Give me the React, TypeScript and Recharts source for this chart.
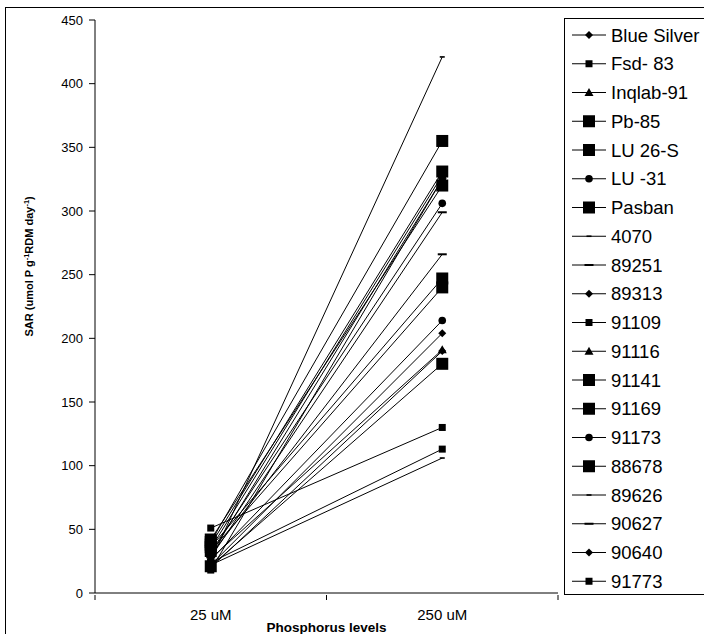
import { LineChart, Line, XAxis, YAxis, Label } from 'recharts';

// P levels (x categories) and tick values
const levels = ['25 uM', '250 uM'];
const xTicks = [0.5, 1, 1.5, 2, 2.5];
const yTicks = [0, 50, 100, 150, 200, 250, 300, 350, 400, 450];

// cultivar names, marker kinds and SAR values at each level
const cultivars = [
  'Blue Silver', 'Fsd- 83', 'Inqlab-91', 'Pb-85', 'LU 26-S', 'LU -31', 'Pasban',
  '4070', '89251', '89313', '91109', '91116', '91141', '91169', '91173', '88678',
  '89626', '90627', '90640', '91773',
];
const markers = [
  'diamond', 'smallSquare', 'triangle', 'bigSquare', 'bigSquare', 'circle', 'bigSquare',
  'tinyDash', 'dash', 'diamond', 'smallSquare', 'triangle', 'bigSquare', 'bigSquare',
  'circle', 'bigSquare', 'tinyDash', 'dash', 'diamond', 'smallSquare',
];
const sar25 = [30, 51, 35, 40, 38, 32, 42, 25, 28, 22, 24, 27, 36, 33, 26, 21, 22, 30, 20, 18];
const sar250 = [325, 130, 328, 355, 331, 306, 320, 421, 299, 204, 113, 191, 247, 240, 214, 180, 106, 266, 190, 325];

const data = levels.map((lvl, i) => {
  const row: Record<string, number | string> = { x: i + 1, level: lvl };
  cultivars.forEach((c, j) => {
    row[c] = i === 0 ? sar25[j] : sar250[j];
  });
  return row;
});

function marker(kind: string, cx: number, cy: number, key?: string) {
  switch (kind) {
    case 'bigSquare':
      return <rect key={key} x={cx - 6} y={cy - 6} width={12} height={12} fill="#000" />;
    case 'smallSquare':
      return <rect key={key} x={cx - 3.5} y={cy - 3.5} width={7} height={7} fill="#000" />;
    case 'diamond':
      return (
        <polygon key={key} points={`${cx},${cy - 4} ${cx + 4},${cy} ${cx},${cy + 4} ${cx - 4},${cy}`} fill="#000" />
      );
    case 'triangle':
      return (
        <polygon key={key} points={`${cx},${cy - 4.5} ${cx + 4.5},${cy + 3.5} ${cx - 4.5},${cy + 3.5}`} fill="#000" />
      );
    case 'circle':
      return <circle key={key} cx={cx} cy={cy} r={3.8} fill="#000" />;
    case 'dash':
      return <rect key={key} x={cx - 4.5} y={cy - 1} width={9} height={2} fill="#000" />;
    default:
      return <rect key={key} x={cx - 2.5} y={cy - 0.8} width={5} height={1.6} fill="#000" />;
  }
}

const XTick = (props: any) => {
  const { x, y, payload } = props;
  const v = payload.value as number;
  if (Number.isInteger(v)) {
    return (
      <text x={x} y={y + 25} textAnchor="middle" fontSize={15} fill="#000">
        {levels[v - 1]}
      </text>
    );
  }
  return <line x1={x} y1={y} x2={x} y2={y + 5} stroke="#000" />;
};

const YTitle = (props: any) => {
  const vb = props.viewBox;
  const cx = 33;
  const cy = vb.y + vb.height * 0.43;
  return (
    <text
      x={cx}
      y={cy}
      transform={`rotate(-90 ${cx} ${cy})`}
      textAnchor="middle"
      fontSize={11}
      fontWeight="bold"
      fill="#000"
    >
      SAR (umol P g<tspan fontSize={7.5} dy={-4}>-1</tspan>
      <tspan dy={4}>RDM day</tspan>
      <tspan fontSize={7.5} dy={-4}>-1</tspan>
      <tspan dy={4}>)</tspan>
    </text>
  );
};

function LegendBox() {
  const rowH = 28.75;
  return (
    <svg
      width={140}
      height={577}
      style={{ position: 'absolute', left: 564, top: 18 }}
    >
      <rect x={0.5} y={0.5} width={150} height={576} fill="#fff" stroke="#000" />
      {cultivars.map((c, i) => {
        const cy = 17 + i * rowH;
        return (
          <g key={c}>
            <line x1={8} y1={cy} x2={42} y2={cy} stroke="#000" />
            {marker(markers[i], 25, cy)}
            <text x={47} y={cy + 6.5} fontSize={18.5} fill="#000">
              {c}
            </text>
          </g>
        );
      })}
    </svg>
  );
}

export default function App() {
  return (
    <div
      style={{
        position: 'absolute',
        left: 0,
        top: 0,
        width: 704,
        height: 634,
        overflow: 'hidden',
        fontFamily: 'Arial, "Liberation Sans", sans-serif',
        background: '#fff',
      }}
    >
      <div
        style={{
          position: 'absolute',
          left: 5,
          top: 7,
          width: 720,
          height: 640,
          borderLeft: '1px solid #000',
          borderTop: '1px solid #000',
        }}
      />
      <div style={{ position: 'absolute', left: 0, top: 0 }}>
        <LineChart width={704} height={634} data={data} margin={{ top: 20, right: 146, bottom: 0, left: 0 }}>
          <XAxis
            dataKey="x"
            type="number"
            domain={[0.5, 2.5]}
            ticks={xTicks}
            tick={<XTick />}
            tickLine={false}
            tickSize={0}
            height={41}
            axisLine={{ stroke: '#000' }}
            interval={0}
          >
            <Label
              value="Phosphorus levels"
              position="insideBottom"
              offset={2}
              style={{ fontSize: 13.5, fontWeight: 'bold', fill: '#000' }}
            />
          </XAxis>
          <YAxis
            domain={[0, 450]}
            ticks={yTicks}
            width={95}
            tickSize={6}
            tickMargin={6}
            tick={{ fontSize: 13, fill: '#000' }}
            axisLine={{ stroke: '#000' }}
            tickLine={{ stroke: '#000' }}
            interval={0}
          >
            <Label content={<YTitle />} />
          </YAxis>
          {cultivars.map((c, i) => (
            <Line
              key={c}
              dataKey={c}
              stroke="#000"
              strokeWidth={1}
              isAnimationActive={false}
              dot={(p: any) => marker(markers[i], p.cx, p.cy, `${c}-${p.index}`)}
              activeDot={false}
            />
          ))}
        </LineChart>
      </div>
      <LegendBox />
    </div>
  );
}
